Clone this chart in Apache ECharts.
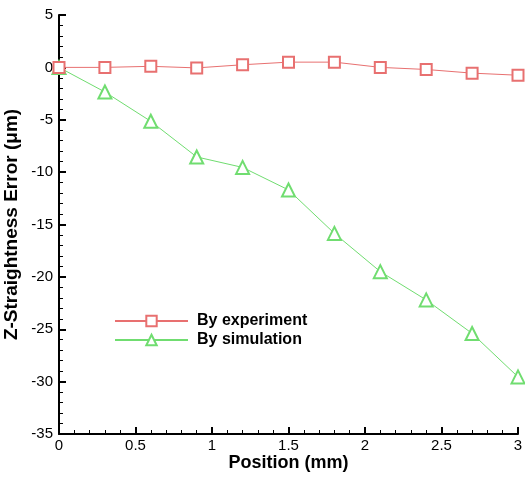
<!DOCTYPE html>
<html><head><meta charset="utf-8">
<script src="https://cdn.jsdelivr.net/npm/echarts@6/dist/echarts.min.js"></script>
<style>html,body{margin:0;padding:0;background:#fff}#c{width:525px;height:478px}</style>
</head><body><div id="c"></div>
<script>
const positions = [0, 0.3, 0.6, 0.9, 1.2, 1.5, 1.8, 2.1, 2.4, 2.7, 3.0];
const experiment = [0, 0.0, 0.1, -0.05, 0.25, 0.5, 0.5, 0.0, -0.2, -0.55, -0.75];
const simulation = [0, -2.35, -5.15, -8.55, -9.55, -11.7, -15.85, -19.5, -22.2, -25.4, -29.55];
const seriesNames = ['By experiment', 'By simulation'];
const xTitle = 'Position (mm)';
const yTitle = 'Z-Straightness Error (μm)';

const font = 'Liberation Sans, Arial, sans-serif';
const chart = echarts.init(document.getElementById('c'));
const pair = (xs, ys) => xs.map((x, i) => [x, ys[i]]);
chart.setOption({
  animation: false,
  backgroundColor: '#fff',
  grid: {left: 59, right: 7, top: 15, bottom: 44, containLabel: false, outerBoundsMode: 'none'},
  legend: {
    orient: 'vertical', left: 109, top: 308, itemWidth: 73, itemHeight: 13, itemGap: 3,
    textStyle: {fontFamily: font, fontWeight: 'bold', fontSize: 16, color: '#000', padding: [0, 0, 0, 4]},
    data: seriesNames
  },
  xAxis: {
    type: 'value', min: 0, max: 3, interval: 0.5,
    name: xTitle, nameLocation: 'middle', nameGap: 20, nameMoveOverlap: false,
    nameTextStyle: {fontFamily: font, fontWeight: 'bold', fontSize: 18, color: '#000'},
    axisLine: {onZero: false, lineStyle: {color: '#000', width: 2}},
    axisTick: {inside: true, length: 7, lineStyle: {color: '#000', width: 2}},
    minorTick: {show: true, splitNumber: 5, length: 4, lineStyle: {color: '#000', width: 1}},
    axisLabel: {fontFamily: font, fontSize: 15, color: '#000', margin: 4},
    splitLine: {show: false}
  },
  yAxis: {
    type: 'value', min: -35, max: 5, interval: 5,
    name: yTitle, nameLocation: 'middle', nameGap: 38, nameRotate: 90, nameMoveOverlap: false,
    nameTextStyle: {fontFamily: font, fontWeight: 'bold', fontSize: 19, color: '#000'},
    axisLine: {onZero: false, lineStyle: {color: '#000', width: 2}},
    axisTick: {inside: true, length: 7, lineStyle: {color: '#000', width: 2}},
    minorTick: {show: true, splitNumber: 5, length: 4, lineStyle: {color: '#000', width: 1}},
    axisLabel: {fontFamily: font, fontSize: 15, color: '#000', margin: 6},
    splitLine: {show: false}
  },
  series: [
    {name: seriesNames[0], type: 'line', data: pair(positions, experiment),
     symbol: 'emptyRect', symbolSize: 11, z: 3,
     lineStyle: {color: '#e87070', width: 1}, itemStyle: {color: '#e87070', borderWidth: 1}},
    {name: seriesNames[1], type: 'line', data: pair(positions, simulation),
     symbol: 'emptyTriangle', symbolSize: 13, z: 2,
     lineStyle: {color: '#70dd70', width: 1}, itemStyle: {color: '#70dd70', borderWidth: 1}}
  ]
});
</script></body></html>
